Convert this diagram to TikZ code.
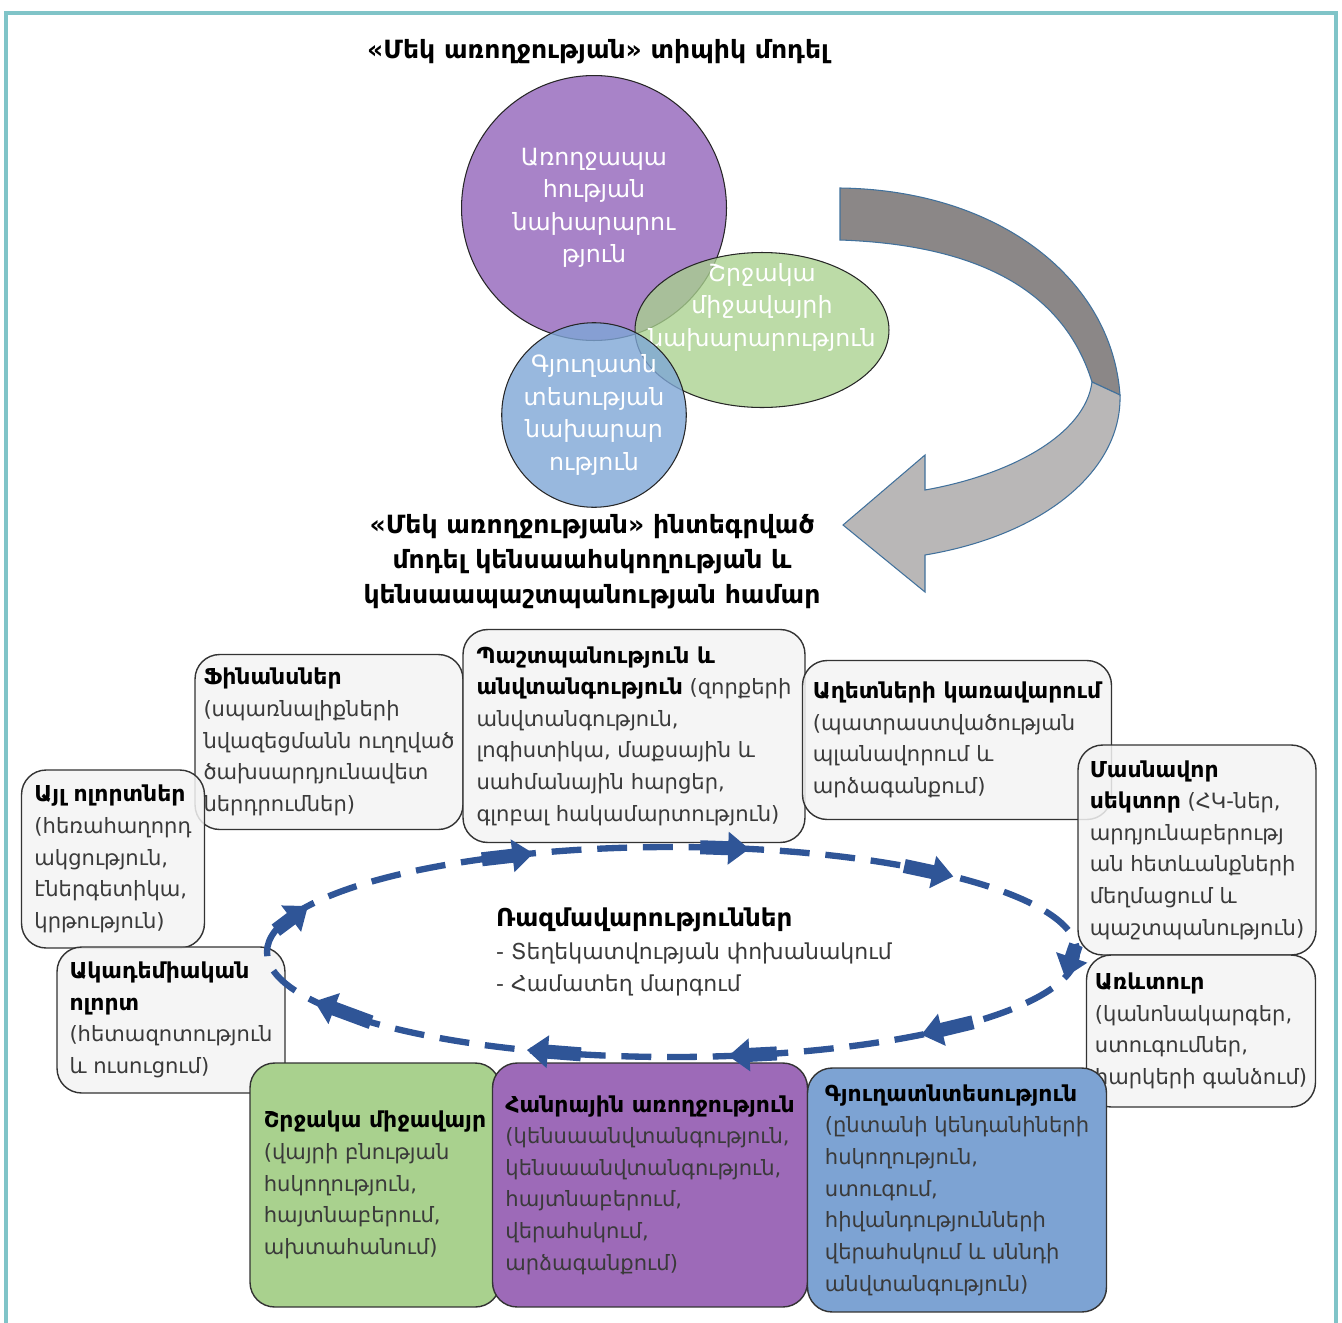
\documentclass[tikz,border=0pt]{standalone}
\usepackage{fontspec}
\setmainfont{DejaVu Sans}
\usetikzlibrary{arrows.meta,positioning,shapes.geometric,calc}
\definecolor{OHFrame}{HTML}{80C4C8}
\definecolor{OHPurple}{HTML}{A883C8}
\definecolor{OHGreen}{HTML}{A9D18E}
\definecolor{OHBlue}{HTML}{7EA6D6}
\definecolor{OHBoxFill}{HTML}{F3F3F3}
\definecolor{OHPurpleDark}{HTML}{9D6AB8}
\definecolor{OHBlueDark}{HTML}{7DA3D3}
\definecolor{OHCycle}{HTML}{2F5597}
\definecolor{OHArrowBack}{HTML}{8B8787}
\definecolor{OHArrowFront}{HTML}{B9B7B7}
\definecolor{OHArrowEdge}{HTML}{41719C}
\definecolor{OHMuted}{HTML}{3A3A3A}
\newcommand{\boxhead}[1]{\textcolor{black}{\fontsize{12.5}{18}\selectfont\bfseries #1}}

\begin{document}
\begin{tikzpicture}[x=0.02cm,y=-0.02cm,
    sectorbox/.style={draw=black!80, fill=OHBoxFill, fill opacity=0.85, text opacity=1, line width=0.8pt, rounded corners=14pt, align=left, text=OHMuted, font=\fontsize{12}{18}\selectfont, inner sep=0pt},
    corebox/.style={sectorbox, fill opacity=1},
    ministry/.style={draw=black!85, line width=0.6pt, inner sep=0pt},
    ministrytext/.style={text=white, align=center, font=\fontsize{13.5}{18.5}\selectfont, inner sep=0pt},
    heading/.style={align=center, font=\bfseries\fontsize{14.3}{20}\selectfont},
    cycleline/.style={OHCycle, line width=3.6pt, dash pattern=on 17pt off 9pt},
    cyclearrow/.style={OHCycle, line width=8pt, -{Triangle[length=12pt,width=18pt]}},
  ]
    \useasboundingbox (0,0) rectangle (1342,1322);
    \draw[OHFrame, line width=2.4pt] (6,13) rectangle (1336,1340);

    % Typical model
    \node[heading] (title) at (598,52) {«Մեկ առողջության» տիպիկ մոդել};

    \node[ministry, circle, fill=OHPurple, minimum size=5.3cm, ministrytext] (moh) at (594,208) {Առողջապա\\հության\\նախարարու\\թյուն};
    \node[ministry, ellipse, fill=OHGreen, fill opacity=0.78, minimum width=5.08cm, minimum height=3.1cm] (moe) at (762,330) {};
    \node[ministrytext] (moeText) at (762,307) {Շրջակա\\միջավայրի\\նախարարություն};
    \node[ministry, circle, fill=OHBlue, fill opacity=0.8, text opacity=1, minimum size=3.68cm, ministrytext] (moa) at (594,415) {Գյուղատն\\տեսության\\նախարար\\ություն};

    % Curved arrow
    \draw[OHArrowEdge, fill=OHArrowBack, line width=0.6pt] (840,188) .. controls (1000,190) and (1112,280) .. (1120,395) -- (1092,382) .. controls (1065,295) and (985,245) .. (840,240) -- cycle;
    \draw[OHArrowEdge, fill=OHArrowFront, line width=0.6pt] (1120,395) .. controls (1122,470) and (1045,535) .. (925,555) -- (925,592) -- (843,525) -- (925,455) -- (925,490) .. controls (1010,475) and (1085,435) .. (1092,382) -- cycle;

    % Integrated model
    \node[heading] (model) at (592,562) {«Մեկ առողջության» ինտեգրված\\մոդել կենսաահսկողության և\\կենսաապաշտպանության համար};

    % Sectors
    \node[sectorbox, minimum width=5.36cm, minimum height=3.5cm] (fin) at (329,742) {\boxhead{Ֆինանսներ}\\(սպառնալիքների\\նվազեցմանն ուղղված\\ծախսարդյունավետ\\ներդրումներ)};
    \node[sectorbox, minimum width=6.84cm, minimum height=4.26cm] (def) at (634,736) {\boxhead{Պաշտպանություն և}\\\boxhead{անվտանգություն} (զորքերի\\անվտանգություն,\\լոգիստիկա, մաքսային և\\սահմանային հարցեր,\\գլոբալ հակամարտություն)};
    \node[sectorbox, minimum width=6.18cm, minimum height=3.18cm] (dis) at (957,740) {\boxhead{Աղետների կառավարում}\\(պատրաստվածության\\պլանավորում և\\արձագանքում)};
    \node[sectorbox, minimum width=3.66cm, minimum height=3.56cm] (other) at (113,859) {\boxhead{Այլ ոլորտներ}\\(հեռահաղորդ\\ակցություն,\\էներգետիկա,\\կրթություն)};
    \node[sectorbox, minimum width=4.76cm, minimum height=4.2cm] (priv) at (1197,850) {\boxhead{Մասնավոր}\\\boxhead{սեկտոր} (ՀԿ-ներ,\\արդյունաբերությ\\ան հետևանքների\\մեղմացում և\\պաշտպանություն)};
    \node[sectorbox, minimum width=4.58cm, minimum height=3.04cm] (trade) at (1201,1031) {\boxhead{Առևտուր}\\(կանոնակարգեր,\\ստուգումներ,\\հարկերի գանձում)};
    \node[sectorbox, minimum width=4.56cm, minimum height=2.92cm] (acad) at (171,1020) {\boxhead{Ակադեմիական}\\\boxhead{ոլորտ}\\(հետազոտություն\\և ուսուցում)};

    % Core sectors
    \node[corebox, fill=OHGreen, minimum width=5cm, minimum height=4.88cm] (env) at (375,1185) {\boxhead{Շրջակա միջավայր}\\(վայրի բնության\\հսկողություն,\\հայտնաբերում,\\ախտահանում)};
    \node[corebox, fill=OHPurpleDark, minimum width=6.3cm, minimum height=4.88cm] (pub) at (650,1185) {\boxhead{Հանրային առողջություն}\\(կենսաանվտանգություն,\\կենսաանվտանգություն,\\հայտնաբերում,\\վերահսկում,\\արձագանքում)};
    \node[corebox, fill=OHBlueDark, minimum width=5.98cm, minimum height=4.88cm] (agri) at (957,1190) {\boxhead{Գյուղատնտեսություն}\\(ընտանի կենդանիների\\հսկողություն,\\ստուգում,\\հիվանդությունների\\վերահսկում և սննդի\\անվտանգություն)};

    % Strategy cycle
    \draw[cycleline] (672,952) ellipse[x radius=405, y radius=105];
    \foreach \a/\d in {206/14, 250/8, 281/7, 314/9, 14/18, 52/10, 82/7, 111/8, 152/14}
      \draw[cyclearrow] ({672+405*cos(\a-\d)},{952+105*sin(\a-\d)}) -- ({672+405*cos(\a)},{952+105*sin(\a)});

    \node[align=left, anchor=west, text=OHMuted, font=\fontsize{12.5}{18.5}\selectfont] (strat) at (490,952) {\textcolor{black}{\bfseries\fontsize{14}{18.5}\selectfont Ռազմավարություններ}\\- Տեղեկատվության փոխանակում\\- Համատեղ մարգում};
\end{tikzpicture}
\end{document}
